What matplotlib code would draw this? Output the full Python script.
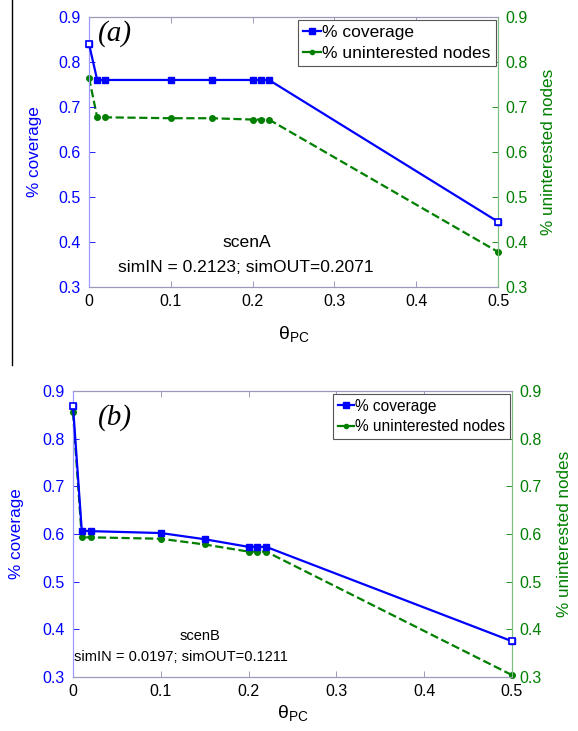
"""scenA / scenB: coverage vs uninterested nodes over theta_PC"""

import matplotlib
matplotlib.use("Agg")
import matplotlib.pyplot as plt
from matplotlib.lines import Line2D

# ── data ──────────────────────────────────
theta_pc = [0, 0.01, 0.02, 0.1, 0.15, 0.2, 0.21, 0.22, 0.5]

cov_a = [0.840, 0.760, 0.760, 0.760, 0.760, 0.760, 0.760, 0.760, 0.445]
unint_a = [0.765, 0.677, 0.677, 0.675, 0.675, 0.672, 0.672, 0.672, 0.378]

cov_b = [0.868, 0.607, 0.606, 0.602, 0.589, 0.573, 0.573, 0.573, 0.375]
unint_b = [0.855, 0.593, 0.593, 0.590, 0.578, 0.563, 0.563, 0.563, 0.304]

xticks = [0, 0.1, 0.2, 0.3, 0.4, 0.5]
yticks = [0.3, 0.4, 0.5, 0.6, 0.7, 0.8, 0.9]

BLUE = "#0000ff"
GREEN = "#007f00"

plt.rcParams["font.family"] = ["Liberation Sans", "DejaVu Sans"]
plt.rcParams["mathtext.fontset"] = "dejavusans"


def panel(fig, rect, cov, unint, tag, tag_xy, scen, scen_xy, sim, sim_xy,
          text_fs, legend_fs, xpad, lpad, rpad):
    ax = fig.add_axes(rect)
    ax2 = ax.twinx()

    ax.plot(theta_pc, cov, "-s", color=BLUE, lw=1.6, ms=5, clip_on=False, zorder=3)
    # end points are drawn hollow in the original
    ends = [0, len(theta_pc) - 1]
    ax.plot([theta_pc[i] for i in ends], [cov[i] for i in ends], "s",
            color=BLUE, mfc="white", mew=1.2, ms=5, clip_on=False, zorder=4)
    ax2.plot(theta_pc, unint, "--o", color=GREEN, lw=1.6, ms=4, clip_on=False, zorder=3)

    for a in (ax, ax2):
        a.set_xlim(0, 0.5)
        a.set_ylim(0.3, 0.9)
        a.set_yticks(yticks)
        a.tick_params(direction="in", length=4, width=0.6, labelsize=11.5)
    ax.set_xticks(xticks)
    ax.set_xticklabels([f"{t:g}" for t in xticks])
    ax.tick_params(axis="y", colors=BLUE, labelcolor=BLUE, pad=6)
    ax.tick_params(axis="x", colors="#8a8ab0", labelcolor="black", pad=5)
    ax.tick_params(top=True)
    ax2.tick_params(axis="y", colors=GREEN, labelcolor=GREEN, pad=5)

    ax.set_yticklabels([f"{t:g}" for t in yticks])
    ax2.set_yticklabels([f"{t:g}" for t in yticks])

    for a in (ax, ax2):
        a.spines["left"].set_color("#9a9aff")
        a.spines["right"].set_color("#7fbf7f")
        a.spines["top"].set_color("#9a9ab8")
        a.spines["bottom"].set_color("#9a9ab8")
        for s in a.spines.values():
            s.set_linewidth(0.8)

    ax.set_ylabel("% coverage", color=BLUE, fontsize=12.3, labelpad=lpad)
    ax2.set_ylabel("% uninterested nodes", color=GREEN, fontsize=12.3, labelpad=rpad)
    ax.set_xlabel(r"$\mathregular{\theta_{PC}}$", fontsize=14, labelpad=xpad)

    ax.text(*tag_xy, tag, fontsize=21, style="italic", family="Liberation Serif",
            va="center", ha="center")
    ax.text(*scen_xy, scen, fontsize=text_fs, ha="center", va="center")
    ax.text(*sim_xy, sim, fontsize=text_fs, ha="center", va="center")

    handles = [
        Line2D([], [], color=BLUE, marker="s", ms=4, lw=1.6),
        Line2D([], [], color=GREEN, marker="o", ms=3, lw=1.6),
    ]
    leg = ax.legend(handles, ["% coverage", "% uninterested nodes"],
                    loc="upper right", bbox_to_anchor=(0.995, 0.99),
                    fontsize=legend_fs, handlelength=1.0, handletextpad=0.1,
                    borderpad=0.3, labelspacing=0.35, fancybox=False,
                    framealpha=1, edgecolor="#555555", borderaxespad=0)
    leg.get_frame().set_linewidth(0.8)
    ax.set_zorder(ax2.get_zorder() + 1)
    ax.patch.set_visible(False)
    return ax, ax2


fig = plt.figure(figsize=(5.78, 7.31), dpi=100)

panel(fig, [0.154, 0.6074, 0.7076, 0.3694], cov_a, unint_a,
      "(a)", (0.032, 0.864),
      "scenA", (0.193, 0.398),
      "simIN = 0.2123; simOUT=0.2071", (0.192, 0.343),
      text_fs=12.6, legend_fs=12.5, xpad=11, lpad=12, rpad=10)

panel(fig, [0.1263, 0.0739, 0.7595, 0.3912], cov_b, unint_b,
      "(b)", (0.048, 0.845),
      "scenB", (0.145, 0.385),
      "simIN = 0.0197; simOUT=0.1211", (0.123, 0.342),
      text_fs=10.5, legend_fs=11.2, xpad=3, lpad=13, rpad=11)

# vertical rule at the left of panel (a)
fig.add_artist(Line2D([12 / 578, 12 / 578], [1, 1 - 365 / 731],
                      transform=fig.transFigure, color="black", lw=1))

fig.savefig("out.png", dpi=100)
